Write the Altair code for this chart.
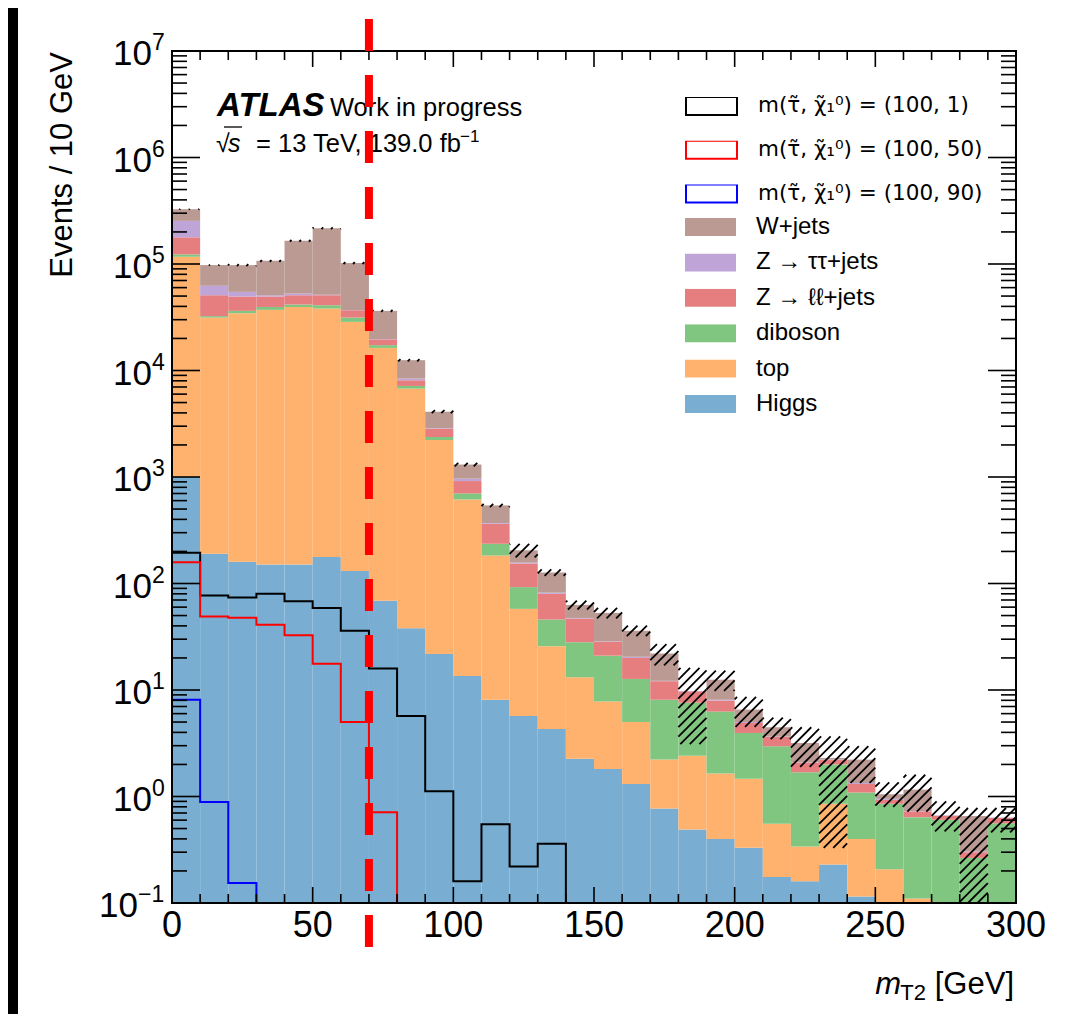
import math
import altair as alt
import numpy as np
import pandas as pd

# ---------------- data ----------------
BIN_W = 10
bin_lo = list(range(0, 300, 10))

higgs = [1000, 190, 160, 151, 151, 177, 131, 69, 38, 21.8, 13.5, 8.1, 5.7, 4.3, 2.26,
         1.81, 1.31, 0.77, 0.49, 0.40, 0.33, 0.175, 0.16, 0.23, 0.115, 0, 0, 0, 0, 0]
top = [116000, 31210, 34340, 36950, 39350, 38020, 28470, 16230, 6722, 2198, 601.5, 174.9,
       52.1, 21.5, 10.94, 5.99, 3.69, 1.45, 1.92, 1.24, 1.14, 0.38, 0.18, 0.625, 0.285,
       0.208, 0.11, 0, 0, 0]
diboson = [6000, 1000, 1800, 2400, 2100, 2800, 2800, 1000, 400, 150, 86, 53, 34.7, 20.1,
           14.9, 13.2, 7.7, 5.88, 5.19, 4.63, 2.48, 2.405, 1.35, 1.145, 0.69, 0.647, 0.53,
           0.605, 0.265, 0.56]
zll = [55000, 18500, 13200, 10000, 9300, 9900, 5400, 2300, 930, 470, 215, 128, 61.5, 34.1,
       18.8, 7.3, 7.3, 4.0, 2.1, 1.68, 0.95, 0.66, 0.38, 0.2, 0.22, 0.075, 0.085, 0.055,
       0.035, 0.07]
ztt = [76000, 11500, 5200, 1400, 1900, 600, 200, 100, 310, 30, 48, 6, 3, 2, 0.6, 0.3, 0.5,
       0.1, 0.1, 0.15, 0.1, 0.03, 0.02, 0.02, 0.03, 0.02, 0.005, 0.005, 0.005, 0.005]
wjets = [73000, 35300, 42800, 56100, 112200, 165500, 65000, 16600, 4100, 1240, 346, 171,
         48, 45, 15.5, 24.4, 15.5, 9.8, 0, 4.4, 1.55, 0.82, 1.09, 0.08, 0.88, 0.1, 0.43, 0,
         0.35, 0]

# total-uncertainty band (upper / lower edge)
band_hi = [330000, 98700, 99500, 109000, 168000, 221000, 104000, 37000, 12800, 4250, 1360,
           560, 236, 136, 69, 59, 40.3, 27, 16.1, 15.2, 8.6, 5.5, 4.47, 3.67, 2.97, 1.36,
           1.6, 0.9, 0.78, 0.78]
band_lo = [324000, 96700, 95500, 105000, 162000, 213000, 100000, 35600, 12200, 3970, 1260,
           522, 176, 118, 57, 47, 32, 17, 3.1, 9.8, 4.5, 3.45, 1.9, 0.33, 1.34, 0.8, 0.72,
           0.47, 0.05, 0.46]

sig_100_1 = [194, 77, 74, 80, 68, 59, 36, 15.9, 5.7, 1.12, 0.16, 0.55, 0.22, 0.36]
sig_100_50 = [158, 49, 47.6, 41, 32.7, 17.6, 5.0, 0.71]
sig_100_90 = [8.1, 0.89, 0.154]

process_names = ["W+jets", "Z \u2192 \u03c4\u03c4+jets", "Z \u2192 \u2113\u2113+jets",
                 "diboson", "top", "Higgs"]
process_colors = ["#ba9a93", "#bfa4d7", "#e67d7e", "#80c680", "#ffb26e", "#79add2"]
sig_names = ["m(\u03c4\u0303, \u03c7\u0303\u2081\u2070) = (100, 1)",
             "m(\u03c4\u0303, \u03c7\u0303\u2081\u2070) = (100, 50)",
             "m(\u03c4\u0303, \u03c7\u0303\u2081\u2070) = (100, 90)"]
sig_colors = ["#000000", "#ff0000", "#0000ff"]

major_y = [10.0 ** k for k in range(-1, 8)]
minor_y = [m * 10.0 ** k for k in range(-1, 7) for m in range(2, 10)]
major_x = [0, 50, 100, 150, 200, 250, 300]
minor_x = [v for v in range(10, 300, 10) if v % 50 != 0]
cut_x = 70

# ---------------- layout / style ----------------
W, H = 844, 852
FONT = "Liberation Sans"
PX_GEV = W / 300.0
PX_DEC = H / 8.0

X_SCALE = alt.Scale(domain=[0, 300], nice=False, zero=False)
Y_SCALE = alt.Scale(type="log", domain=[0.1, 1e7], nice=False)

# stacked table
stack_order = [("Higgs", higgs), ("top", top), ("diboson", diboson),
               ("Z \u2192 \u2113\u2113+jets", zll), ("Z \u2192 \u03c4\u03c4+jets", ztt),
               ("W+jets", wjets)]
rows = []
for i, x0 in enumerate(bin_lo):
    base = 0.0
    for name, vals in stack_order:
        v = vals[i]
        if v > 0:
            rows.append(dict(x0=x0, x1=x0 + BIN_W, lo=base if base > 0 else 1e-4,
                             hi=base + v, process=name))
        base += v
stack_df = pd.DataFrame(rows)

# hatch segments of the uncertainty band
SP = 9.5
hrows = []
for i, x0 in enumerate(bin_lo):
    u0, u1 = x0 * PX_GEV, (x0 + BIN_W) * PX_GEV
    v0 = math.log10(max(band_lo[i], 0.1)) * PX_DEC
    v1 = math.log10(band_hi[i]) * PX_DEC
    k0 = math.ceil((u0 - v1) / SP)
    k1 = math.floor((u1 - v0) / SP)
    for k in range(k0, k1 + 1):
        c = k * SP
        ua = max(u0, v0 + c)
        ub = min(u1, v1 + c)
        if ub > ua + 0.3:
            hrows.append(dict(hx0=ua / PX_GEV, hy0=10 ** ((ua - c) / PX_DEC),
                              hx1=ub / PX_GEV, hy1=10 ** ((ub - c) / PX_DEC)))
hatch_df = pd.DataFrame(hrows)

# signal step lines
srows = []
for name, vals in zip(sig_names, [sig_100_1, sig_100_50, sig_100_90]):
    for i, v in enumerate(vals):
        srows.append(dict(x=i * BIN_W, y=v, signal=name))
    srows.append(dict(x=len(vals) * BIN_W, y=1e-4, signal=name))
sig_df = pd.DataFrame(srows)

one = pd.DataFrame({"a": [0]})
RECT_PATH = "M-1,-0.353H1V0.353H-1Z"

# ---------------- layers ----------------
bg = alt.Chart(one).mark_rect(fill="white", clip=False).encode(
    x=alt.value(-154), x2=alt.value(W + 45), y=alt.value(-43), y2=alt.value(H + 111))

stack = alt.Chart(stack_df).mark_rect(clip=True, strokeWidth=0).encode(
    x=alt.X("x0:Q", scale=X_SCALE, axis=None),
    x2="x1:Q",
    y=alt.Y("hi:Q", scale=Y_SCALE, axis=None),
    y2="lo:Q",
    fill=alt.Fill("process:N", scale=alt.Scale(domain=process_names, range=process_colors),
                  legend=alt.Legend(title=None, orient="none", legendX=513, legendY=167,
                                    symbolType=RECT_PATH, symbolSize=2601,
                                    symbolStrokeWidth=0, symbolOpacity=1, clipHeight=18,
                                    rowPadding=11.4, labelFont=FONT, labelFontSize=24,
                                    labelColor="black", labelOffset=20, labelLimit=600,
                                    padding=0)),
)

hatch = alt.Chart(hatch_df).mark_rule(clip=True, color="black", strokeWidth=1.8).encode(
    x=alt.X("hx0:Q", scale=X_SCALE, axis=None), x2="hx1:Q",
    y=alt.Y("hy0:Q", scale=Y_SCALE, axis=None), y2="hy1:Q")

signals = alt.Chart(sig_df).mark_line(clip=True, interpolate="step-after",
                                      strokeWidth=2).encode(
    x=alt.X("x:Q", scale=X_SCALE, axis=None),
    y=alt.Y("y:Q", scale=Y_SCALE, axis=None),
    stroke=alt.Stroke("signal:N", scale=alt.Scale(domain=sig_names, range=sig_colors),
                      legend=alt.Legend(title=None, orient="none", legendX=513, legendY=46,
                                        symbolType=RECT_PATH, symbolSize=2601,
                                        symbolStrokeWidth=2, symbolFillColor="white",
                                        clipHeight=18, rowPadding=21.8,
                                        labelFont="DejaVu Sans", labelFontSize=21.5,
                                        labelColor="black", labelOffset=20,
                                        labelLimit=600, padding=0)),
    detail="signal:N",
)


def yticks(vals, side, length):
    df = pd.DataFrame({"v": vals})
    xa, xb = (0, length) if side == "left" else (W, W - length)
    return alt.Chart(df).mark_rule(color="black", strokeWidth=1.6).encode(
        y=alt.Y("v:Q", scale=Y_SCALE, axis=None), x=alt.value(xa), x2=alt.value(xb))


def xticks(vals, side, length):
    df = pd.DataFrame({"v": vals})
    ya, yb = (H, H - length) if side == "bottom" else (0, length)
    return alt.Chart(df).mark_rule(color="black", strokeWidth=1.6).encode(
        x=alt.X("v:Q", scale=X_SCALE, axis=None), y=alt.value(ya), y2=alt.value(yb))


ticks = [yticks(major_y, "left", 28), yticks(minor_y, "left", 15),
         yticks(major_y, "right", 28), yticks(minor_y, "right", 15),
         xticks(major_x, "bottom", 16), xticks(minor_x, "bottom", 9),
         xticks(major_x, "top", 16), xticks(minor_x, "top", 9)]

frame = alt.Chart(one).mark_rect(fill="white", fillOpacity=0, stroke="black",
                                 strokeWidth=2, clip=False).encode(
    x=alt.value(0), x2=alt.value(W), y=alt.value(0), y2=alt.value(H))

# x tick labels
xlab = alt.Chart(pd.DataFrame({"v": major_x})).mark_text(
    font=FONT, fontSize=36, align="center", baseline="alphabetic", color="black").encode(
    x=alt.X("v:Q", scale=X_SCALE, axis=None), y=alt.value(H + 34), text="v:Q")

# y tick labels: 10^k
pos_dec = pd.DataFrame({"v": [10.0 ** k for k in range(0, 8)],
                        "e": [str(k) for k in range(0, 8)]})
neg_dec = pd.DataFrame({"v": [0.1], "e": ["\u22121"]})
ylab_base = alt.Chart(pos_dec).mark_text(text="10", font=FONT, fontSize=35, align="right",
                                         baseline="alphabetic", dy=14, color="black").encode(
    y=alt.Y("v:Q", scale=Y_SCALE, axis=None), x=alt.value(-20))
ylab_exp = alt.Chart(pos_dec).mark_text(font=FONT, fontSize=23, align="left",
                                        baseline="alphabetic", dy=-1, color="black").encode(
    y=alt.Y("v:Q", scale=Y_SCALE, axis=None), x=alt.value(-20), text="e:N")
ylab_base_n = alt.Chart(neg_dec).mark_text(text="10", font=FONT, fontSize=35, align="right",
                                           baseline="alphabetic", dy=14,
                                           color="black").encode(
    y=alt.Y("v:Q", scale=Y_SCALE, axis=None), x=alt.value(-34))
ylab_exp_n = alt.Chart(neg_dec).mark_text(font=FONT, fontSize=23, align="left",
                                          baseline="alphabetic", dy=-1,
                                          color="black").encode(
    y=alt.Y("v:Q", scale=Y_SCALE, axis=None), x=alt.value(-34), text="e:N")


def label(text, x, y, size, align="left", weight="normal", style="normal", angle=0):
    return alt.Chart(one).mark_text(text=text, font=FONT, fontSize=size, align=align,
                                    baseline="alphabetic", fontWeight=weight,
                                    fontStyle=style, angle=angle, color="black").encode(
        x=alt.value(x), y=alt.value(y))


texts = [
    label("Events / 10 GeV", -100, 1, 31, align="right", angle=270),
    label("[GeV]", W - 2, 943, 31, align="right"),
    label("T2", 754, 949, 22, align="right"),
    label("m", 729, 943, 31, align="right", style="italic"),
    label("ATLAS", 45, 65, 33, weight="bold", style="italic"),
    label("Work in progress", 158, 65, 25.5),
    label("\u221a", 44, 101, 25),
    label("s", 56, 101, 25, style="italic"),
    label("= 13 TeV, 139.0 fb", 84, 101, 25.5),
    label("\u22121", 288, 91, 17),
]
overline = alt.Chart(one).mark_rule(color="black", strokeWidth=1.3).encode(
    x=alt.value(52), x2=alt.value(70), y=alt.value(76))

cut_line = alt.Chart(pd.DataFrame({"x": [cut_x], "ya": [2.0e7], "yb": [0.0386]})).mark_rule(
    color="#ff0000", strokeWidth=8, strokeDash=[32, 24], clip=False).encode(
    x=alt.X("x:Q", scale=X_SCALE, axis=None),
    y=alt.Y("ya:Q", scale=Y_SCALE, axis=None), y2="yb:Q")

chart = alt.layer(
    bg, stack, hatch, signals, *ticks, frame, xlab,
    ylab_base, ylab_exp, ylab_base_n, ylab_exp_n, *texts, overline, cut_line,
).properties(
    width=W, height=H,
    autosize=alt.AutoSizeParams(type="none"),
    padding={"left": 164, "top": 43, "right": 45, "bottom": 111},
    background="black",
).configure(font=FONT).configure_view(strokeWidth=0)

chart.save("out.html", embed_options={"renderer": "svg", "actions": False})
